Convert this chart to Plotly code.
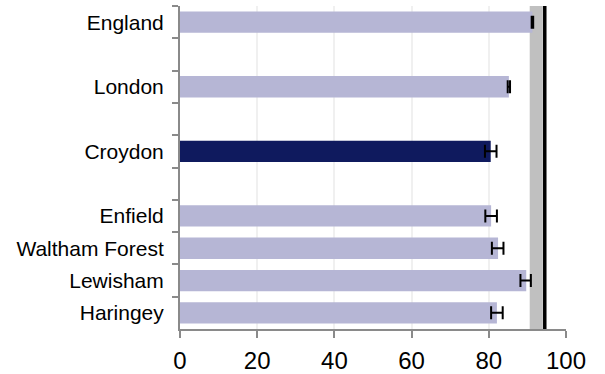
import plotly.graph_objects as go

# Areas (blank entries are spacer rows between groups)
areas = ["England", " ", "London", "  ", "Croydon", "   ",
         "Enfield", "Waltham Forest", "Lewisham", "Haringey"]
values = [91.3, None, 85.2, None, 80.5, None, 80.6, 82.4, 89.7, 82.1]
ci_lower = [91.1, None, 84.9, None, 79.0, None, 79.1, 80.8, 88.2, 80.6]
ci_upper = [91.5, None, 85.5, None, 82.0, None, 82.1, 83.8, 90.9, 83.6]

highlight = "Croydon"
band_low, band_high = 90.6, 94.0   # shaded benchmark range
target = 94.5                      # benchmark line

x_ticks = [0, 20, 40, 60, 80, 100]

light = "#b6b6d5"
dark = "#0f1a5e"

colors = [dark if a == highlight else light for a in areas]
err_plus = [None if v is None else hi - v for v, hi in zip(values, ci_upper)]
err_minus = [None if v is None else v - lo for v, lo in zip(values, ci_lower)]

fig = go.Figure()
fig.add_trace(go.Bar(
    x=values, y=areas, orientation="h",
    marker=dict(color=colors, line=dict(width=0)),
    error_x=dict(type="data", symmetric=False, array=err_plus,
                 arrayminus=err_minus, color="black", thickness=2, width=6.5),
    hoverinfo="x+y",
))

fig.add_shape(type="rect", xref="x", yref="paper", x0=band_low, x1=band_high,
              y0=0, y1=1, fillcolor="#c0c0c0", line=dict(width=0), layer="between")
fig.add_shape(type="line", xref="x", yref="paper", x0=target, x1=target,
              y0=0, y1=1, line=dict(color="black", width=3.5), layer="above")

axis_grey = "#8a8a8a"
fig.update_layout(
    width=605, height=374,
    margin=dict(l=180, r=39, t=6, b=45, autoexpand=False),
    paper_bgcolor="white", plot_bgcolor="white",
    font=dict(family="Liberation Sans, Arial, sans-serif", color="black"),
    showlegend=False,
    bargap=0.34,
    xaxis=dict(range=[0, 100], tickvals=x_ticks, ticks="outside", ticklen=7,
               tickwidth=2, tickcolor=axis_grey, showline=True, linecolor=axis_grey,
               linewidth=2, showgrid=True, gridcolor="#f0f0f0", gridwidth=2,
               zeroline=False, tickfont=dict(size=24), ticklabelstandoff=2,
               automargin=False, fixedrange=True),
    yaxis=dict(type="category", categoryorder="array", categoryarray=areas,
               autorange="reversed", tickson="boundaries", ticks="outside",
               ticklen=6, tickwidth=2, tickcolor=axis_grey, showline=True,
               linecolor=axis_grey, linewidth=2, showgrid=False,
               tickfont=dict(size=21), ticklabelstandoff=10, automargin=False,
               fixedrange=True),
)

fig.write_html("out.html")
